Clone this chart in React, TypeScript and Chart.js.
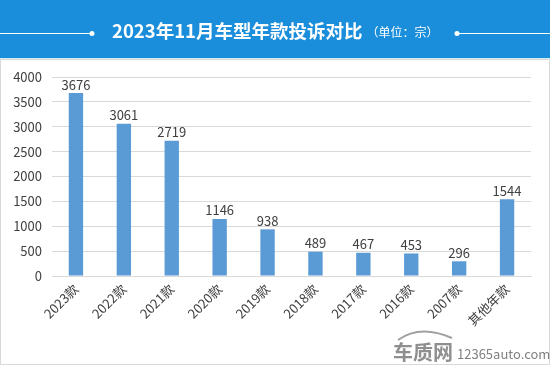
import React, { useEffect, useRef } from "react";
import { Chart, registerables } from "chart.js";

Chart.register(...registerables);

const categories = ["2023款", "2022款", "2021款", "2020款", "2019款", "2018款", "2017款", "2016款", "2007款", "其他年款"];
const complaints = [3676, 3061, 2719, 1146, 938, 489, 467, 453, 296, 1544];
const yTicks = [0, 500, 1000, 1500, 2000, 2500, 3000, 3500, 4000];
const titleMain = "2023年11月车型年款投诉对比";
const titleUnit = "（单位：宗）";

const FONT = "'Noto Sans CJK SC', 'Noto Sans', sans-serif";

const decorPlugin = {
  id: "decor",
  beforeDraw(chart: any) {
    const { ctx, width, height } = chart;
    ctx.save();
    ctx.fillStyle = "#ffffff";
    ctx.fillRect(0, 0, width, height);
    // header
    ctx.fillStyle = "#1a8ddb";
    ctx.fillRect(0, 0, width, 58);
    ctx.fillStyle = "#cfeefa";
    ctx.fillRect(0, 58, width, 1);
    // border
    ctx.strokeStyle = "#d9d9d9";
    ctx.lineWidth = 1;
    ctx.strokeRect(0.5, 59.5, width - 1, height - 60);
    // title
    ctx.font = `bold 18.5px ${FONT}`;
    const w1 = ctx.measureText(titleMain).width;
    const startX = 112;
    const cy = 31;
    ctx.textBaseline = "middle";
    ctx.textAlign = "left";
    ctx.fillStyle = "#ffffff";
    ctx.fillText(titleMain, startX, cy);
    ctx.font = `12px ${FONT}`;
    ctx.fillText(titleUnit, startX + w1 + 4, cy + 1);
    // lines and dots
    ctx.strokeStyle = "#ffffff";
    ctx.beginPath();
    ctx.moveTo(0, 33.5);
    ctx.lineTo(92, 33.5);
    ctx.moveTo(457, 33.5);
    ctx.lineTo(width, 33.5);
    ctx.stroke();
    ctx.beginPath();
    ctx.arc(92, 33.5, 2.5, 0, Math.PI * 2);
    ctx.arc(457, 33.5, 2.5, 0, Math.PI * 2);
    ctx.fill();
    // watermark
    ctx.fillStyle = "#8f8f8f";
    ctx.font = `bold 20px ${FONT}`;
    ctx.textBaseline = "alphabetic";
    ctx.fillText("车质网", 393, 360);
    ctx.strokeStyle = "#a0a0a0";
    ctx.lineWidth = 2;
    ctx.beginPath();
    ctx.moveTo(398, 340);
    ctx.quadraticCurveTo(420, 324, 452, 338);
    ctx.stroke();
    ctx.fillStyle = "#808080";
    ctx.font = `13px ${FONT}`;
    ctx.fillText("12365auto.com", 457, 359);
    ctx.restore();
  },
  afterDatasetsDraw(chart: any) {
    const { ctx } = chart;
    const meta = chart.getDatasetMeta(0);
    ctx.save();
    ctx.font = `13px ${FONT}`;
    ctx.fillStyle = "#404040";
    ctx.textAlign = "center";
    ctx.textBaseline = "bottom";
    meta.data.forEach((bar: any, i: number) => {
      ctx.fillText(String(complaints[i]), bar.x, bar.y - 2);
    });
    ctx.restore();
  },
};

export default function App() {
  const ref = useRef<HTMLCanvasElement | null>(null);
  useEffect(() => {
    document.body.style.margin = "0";
    const chart = new Chart(ref.current!, {
      type: "bar",
      data: {
        labels: categories,
        datasets: [
          {
            data: complaints,
            backgroundColor: "#5b9bd5",
            barPercentage: 0.3,
            categoryPercentage: 1,
          },
        ],
      },
      options: {
        animation: false,
        responsive: false,
        layout: { padding: { top: 77, left: 8, right: 19, bottom: 0 } },
        plugins: { legend: { display: false }, tooltip: { enabled: false } },
        scales: {
          x: {
            grid: { display: false, drawTicks: false },
            border: { color: "#d9d9d9" },
            ticks: {
              color: "#404040",
              font: { family: FONT, size: 13 },
              minRotation: 45,
              maxRotation: 45,
              padding: 5,
              autoSkip: false,
            },
            afterFit: (s: any) => {
              s.height = 89;
            },
          },
          y: {
            min: 0,
            max: 4000,
            afterBuildTicks: (s: any) => {
              s.ticks = yTicks.map((v) => ({ value: v }));
            },
            grid: { color: "#d9d9d9", drawTicks: false },
            border: { display: false },
            ticks: {
              color: "#404040",
              font: { family: FONT, size: 13 },
              padding: 10,
              callback: (v: any) => String(v),
            },
            afterFit: (s: any) => {
              s.width = 44;
            },
          },
        },
      },
      plugins: [decorPlugin],
    });
    return () => chart.destroy();
  }, []);
  return <canvas ref={ref} width={550} height={365} style={{ display: "block" }} />;
}
